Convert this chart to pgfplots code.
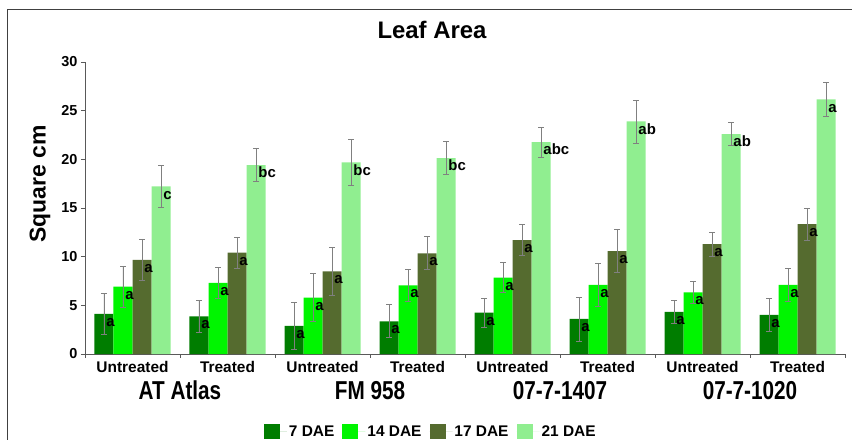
\documentclass[border=0pt]{standalone}
\usepackage{pgfplots}
\pgfplotsset{compat=1.18}
\usepackage{pgfplotstable}
\usepackage{graphicx}
\usepackage{fontspec}
\setmainfont{Liberation Sans}

\definecolor{dae7}{RGB}{0,125,0}
\definecolor{dae14}{RGB}{0,245,0}
\definecolor{dae17}{RGB}{85,107,47}
\definecolor{dae21}{RGB}{144,238,144}

% mean leaf area (square cm), error half-width, letter for 21 DAE
\pgfplotstableread{
x y7   e7   y14  e14  y17   e17  y21   e21  l21
0 4.11 2.10 6.92 2.10 9.67  2.15 17.21 2.15 c
1 3.87 1.65 7.30 1.60 10.42 1.60 19.40 1.70 bc
2 2.88 2.45 5.79 2.45 8.50  2.45 19.68 2.40 bc
3 3.36 1.70 7.06 1.65 10.35 1.70 20.12 1.70 bc
4 4.25 1.50 7.85 1.55 11.69 1.60 21.77 1.55 abc
5 3.60 2.25 7.10 2.25 10.56 2.20 23.89 2.20 ab
6 4.32 1.20 6.34 1.15 11.28 1.20 22.59 1.20 ab
7 4.01 1.70 7.10 1.65 13.34 1.65 26.16 1.70 a
}\leafarea

\begin{document}
\begin{tikzpicture}
\useasboundingbox (0,0) rectangle (852bp,440bp);
\draw[black!75, line width=1bp] (7bp,0) -- (7bp,430bp) -- (852bp,430bp);
\begin{axis}[
  at={(85bp,86bp)}, anchor=south west,
  scale only axis, width=760bp, height=292bp,
  xmin=-0.5, xmax=7.5, ymin=0, ymax=30,
  ybar=0pt, bar width=19bp,
  clip=false,
  axis x line*=bottom, axis y line*=left,
  axis line style={black!65, line width=0.8bp},
  xtick={0,...,7},
  xticklabels={Untreated,Treated,Untreated,Treated,Untreated,Treated,Untreated,Treated},
  major x tick style={draw=none},
  minor xtick={-0.5,0.5,...,7.5},
  ytick={0,5,...,30},
  major tick length=4bp, minor tick length=4bp,
  tick align=outside,
  tick style={black!65, line width=0.6bp},
  /pgf/number format/assume math mode=true,
  yticklabel style={font=\bfseries\fontsize{14.5}{15}\selectfont},
  xticklabel style={font=\bfseries\fontsize{15.5}{16}\selectfont},
  every node near coord/.append style={font=\bfseries\fontsize{15}{15}\selectfont,
    text=black, inner sep=1pt, yshift=-14bp},
  error bars/error bar style={black!50, line width=0.7bp},
  error bars/error mark options={rotate=90, mark size=3bp, black!50, line width=0.7bp},
  legend columns=4,
  legend style={at={(0.455,-0.267)}, anchor=center, draw=none,
    font=\bfseries\fontsize{15.5}{16}\selectfont,
    /tikz/every even column/.append style={column sep=6bp}},
  legend image code/.code={\fill[#1, draw=none] (0bp,-7bp) rectangle (16bp,8bp);
    \path (0bp,0bp) -- (23bp,0bp);},
]
\addplot[fill=dae7, draw=none, nodes near coords={\makebox[0pt][l]{\,a}},
  error bars/.cd, y dir=both, y explicit]
  table[x=x, y=y7, y error=e7] {\leafarea};
\addplot[fill=dae14, draw=none, nodes near coords={\makebox[0pt][l]{\,a}},
  error bars/.cd, y dir=both, y explicit]
  table[x=x, y=y14, y error=e14] {\leafarea};
\addplot[fill=dae17, draw=none, nodes near coords={\makebox[0pt][l]{\,a}},
  error bars/.cd, y dir=both, y explicit]
  table[x=x, y=y17, y error=e17] {\leafarea};
\addplot[fill=dae21, draw=none,
  nodes near coords={\makebox[0pt][l]{\,\pgfplotspointmeta}}, point meta=explicit symbolic,
  error bars/.cd, y dir=both, y explicit]
  table[x=x, y=y21, y error=e21, meta=l21] {\leafarea};
\legend{7 DAE, 14 DAE, 17 DAE, 21 DAE}
\end{axis}
\node[anchor=base, font=\bfseries\fontsize{24}{24}\selectfont] at (432bp,401bp) {Leaf Area};
\node[rotate=90, font=\bfseries\fontsize{23}{23}\selectfont] at (40bp,256bp) {Square cm};
\foreach \px/\name in {180/AT Atlas, 370/FM 958, 560/07-7-1407, 750/07-7-1020}
  \node[anchor=base, font=\bfseries\fontsize{26}{26}\selectfont] at (\px bp,40bp) {\scalebox{0.8}[1]{\name}};
\end{tikzpicture}
\end{document}
